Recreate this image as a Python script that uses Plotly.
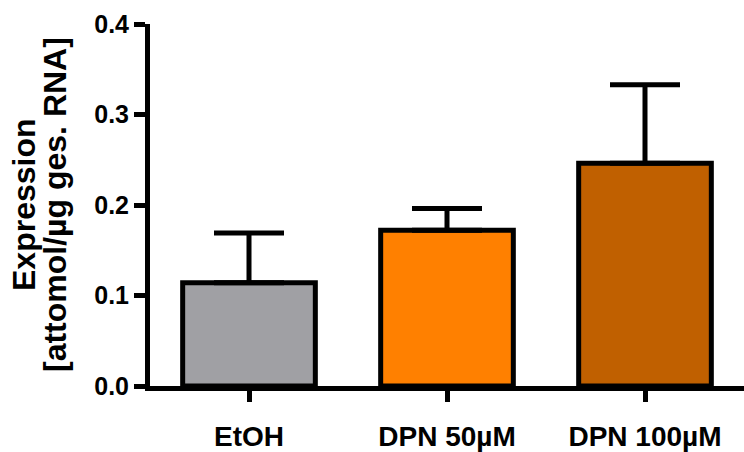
import plotly.graph_objects as go

# Group labels, mean expression and standard deviation (upper error only)
groups = ["EtOH", "DPN 50µM", "DPN 100µM"]
means = [0.114, 0.172, 0.246]
sd = [0.055, 0.024, 0.087]
colors = ["#a0a0a4", "#ff8000", "#c06000"]

y_ticks = [0.0, 0.1, 0.2, 0.3, 0.4]
y_tick_text = ["0.0", "0.1", "0.2", "0.3", "0.4"]

font_family = "Liberation Sans, Arial, sans-serif"

fig = go.Figure()
fig.add_trace(go.Bar(
    x=groups,
    y=means,
    width=0.67,
    marker=dict(color=colors, line=dict(color="black", width=5)),
    error_y=dict(type="data", array=sd, symmetric=False, arrayminus=[0, 0, 0],
                 color="black", thickness=5, width=35),
))

fig.update_layout(
    width=744, height=452,
    margin=dict(l=150, r=0, t=24, b=62),
    plot_bgcolor="white", paper_bgcolor="white",
    showlegend=False,
    font=dict(family=font_family, color="black"),
    xaxis=dict(
        range=[-0.5, 2.5],
        showline=True, linecolor="black", linewidth=5,
        ticks="outside", ticklen=11, tickwidth=5, tickcolor="black",
        tickfont=dict(size=28, family=font_family, color="black", weight="bold"),
        ticklabelstandoff=10,
        showgrid=False, zeroline=False,
    ),
    yaxis=dict(
        range=[0, 0.4],
        tickvals=y_ticks, ticktext=y_tick_text,
        showline=True, linecolor="black", linewidth=5,
        ticks="outside", ticklen=11, tickwidth=5, tickcolor="black",
        tickfont=dict(size=25, family=font_family, color="black", weight="bold"),
        showgrid=False, zeroline=False,
    ),
)

# Two-line y-axis title
fig.add_annotation(text="Expression", xref="paper", yref="paper", x=0, y=0.5,
                   xanchor="center", yanchor="middle", xshift=-126, textangle=-90,
                   showarrow=False,
                   font=dict(size=32, family=font_family, color="black", weight="bold"))
fig.add_annotation(text="[attomol/µg ges. RNA]", xref="paper", yref="paper", x=0, y=0.5,
                   xanchor="center", yanchor="middle", xshift=-95, textangle=-90,
                   showarrow=False,
                   font=dict(size=32, family=font_family, color="black", weight="bold"))

fig.write_html("out.html")
